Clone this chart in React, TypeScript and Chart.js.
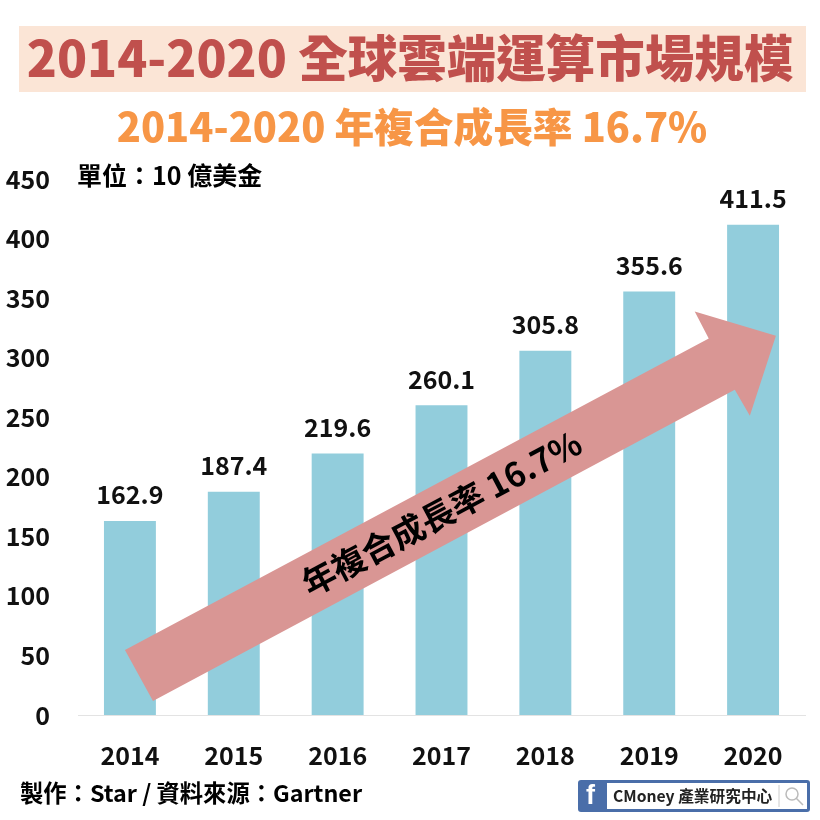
import React, { useEffect, useRef } from "react";
import { Chart, registerables } from "chart.js";

Chart.register(...registerables);

const years = ["2014", "2015", "2016", "2017", "2018", "2019", "2020"];
const marketSize = [162.9, 187.4, 219.6, 260.1, 305.8, 355.6, 411.5];
const yTicks = [0, 50, 100, 150, 200, 250, 300, 350, 400, 450];
const titleText = "2014-2020 全球雲端運算市場規模";
const subtitleText = "2014-2020 年複合成長率 16.7%";
const unitText = "單位：10 億美金";
const footerText = "製作：Star / 資料來源：Gartner";
const arrowText = "年複合成長率 16.7%";
const logoText = "CMoney 產業研究中心";
// trend arrow outline, in chart units [category position, value]
const arrowOutline = [
  [-0.048, 54.6],
  [0.222, 11.8],
  [5.824, 273.1],
  [5.969, 251.3],
  [6.22, 318.5],
  [5.438, 338.7],
  [5.573, 316],
];
const arrowLabelAnchor = [3.0, 169.5];

const CJK = '"Noto Sans CJK TC", "Noto Sans", sans-serif';

const overlay = {
  id: "overlay",
  afterDatasetsDraw(chart: any) {
    const { ctx, scales } = chart;
    const x = scales.x;
    const y = scales.y;
    ctx.save();

    // trend arrow
    ctx.fillStyle = "#D99694";
    ctx.beginPath();
    arrowOutline.forEach(([c, v], i) => {
      const px = x.getPixelForValue(c);
      const py = y.getPixelForValue(v);
      if (i === 0) ctx.moveTo(px, py);
      else ctx.lineTo(px, py);
    });
    ctx.closePath();
    ctx.fill();

    // arrow label
    ctx.save();
    ctx.translate(x.getPixelForValue(arrowLabelAnchor[0]), y.getPixelForValue(arrowLabelAnchor[1]));
    ctx.rotate((-28 * Math.PI) / 180);
    ctx.fillStyle = "#000";
    ctx.textAlign = "center";
    ctx.textBaseline = "middle";
    ctx.font = `700 33.5px ${CJK}`;
    ctx.fillText(arrowText, 0, 0);
    ctx.restore();

    // value labels
    ctx.fillStyle = "#111";
    ctx.textAlign = "center";
    ctx.textBaseline = "middle";
    ctx.font = `700 25px ${CJK}`;
    marketSize.forEach((v, i) => {
      ctx.fillText(v.toFixed(1), x.getPixelForValue(i), y.getPixelForValue(v) - 26);
    });

    // title band
    ctx.fillStyle = "#FBE5D6";
    ctx.fillRect(19, 26, 787, 66);
    ctx.fillStyle = "#C0504D";
    ctx.font = `900 49.5px ${CJK}`;
    ctx.fillText(titleText, 410, 58);
    ctx.fillStyle = "#F79646";
    ctx.font = `900 39.7px ${CJK}`;
    ctx.fillText(subtitleText, 412, 127);

    // unit and footer
    ctx.textAlign = "left";
    ctx.fillStyle = "#000";
    ctx.font = `700 25px ${CJK}`;
    ctx.fillText(unitText, 77, 175);
    ctx.font = `700 23.3px ${CJK}`;
    ctx.fillText(footerText, 20, 793);

    // logo
    ctx.fillStyle = "#4A6EA9";
    ctx.beginPath();
    ctx.roundRect(578, 780, 232, 32, 3);
    ctx.fill();
    ctx.fillStyle = "#fff";
    ctx.fillRect(607, 783, 200, 26);
    ctx.font = `700 27px "Liberation Sans", sans-serif`;
    ctx.fillText("f", 586, 797);
    ctx.fillStyle = "#222";
    ctx.font = `700 15.7px ${CJK}`;
    ctx.fillText(logoText, 613, 796);
    ctx.strokeStyle = "#ccc";
    ctx.lineWidth = 1;
    ctx.beginPath();
    ctx.moveTo(779, 785);
    ctx.lineTo(779, 807);
    ctx.stroke();
    ctx.strokeStyle = "#bbb";
    ctx.lineWidth = 1.5;
    ctx.beginPath();
    ctx.arc(792, 794, 6, 0, Math.PI * 2);
    ctx.moveTo(796.5, 798.5);
    ctx.lineTo(803, 805);
    ctx.stroke();

    ctx.restore();
  },
};

export default function App() {
  const ref = useRef<HTMLCanvasElement>(null);
  useEffect(() => {
    const chart = new Chart(ref.current!, {
      type: "bar",
      data: {
        labels: years,
        datasets: [
          {
            data: marketSize,
            backgroundColor: "#92CDDC",
            barPercentage: 0.5,
            categoryPercentage: 1,
          },
        ],
      },
      options: {
        animation: false,
        responsive: false,
        devicePixelRatio: 1,
        layout: { padding: { top: 179, right: 15, left: 0, bottom: 0 } },
        plugins: { legend: { display: false }, tooltip: { enabled: false } },
        scales: {
          x: {
            grid: { display: false, drawTicks: false },
            border: { display: true, color: "#E3E3E3", width: 1 },
            ticks: {
              color: "#111",
              padding: 25,
              font: { family: CJK, size: 25, weight: "700" },
            },
            afterFit(scale: any) {
              scale.height = 105;
            },
          },
          y: {
            min: 0,
            max: 450,
            afterBuildTicks(scale: any) {
              scale.ticks = yTicks.map((value) => ({ value }));
            },
            grid: { display: false, drawTicks: false },
            border: { display: false },
            ticks: {
              color: "#111",
              padding: 28,
              font: { family: CJK, size: 25, weight: "700" },
            },
            afterFit(scale: any) {
              scale.width = 78;
            },
          },
        },
      },
      plugins: [overlay],
    } as any);
    return () => chart.destroy();
  }, []);
  return (
    <canvas
      ref={ref}
      width={820}
      height={820}
      style={{ position: "fixed", left: 0, top: 0, width: 820, height: 820 }}
    />
  );
}
